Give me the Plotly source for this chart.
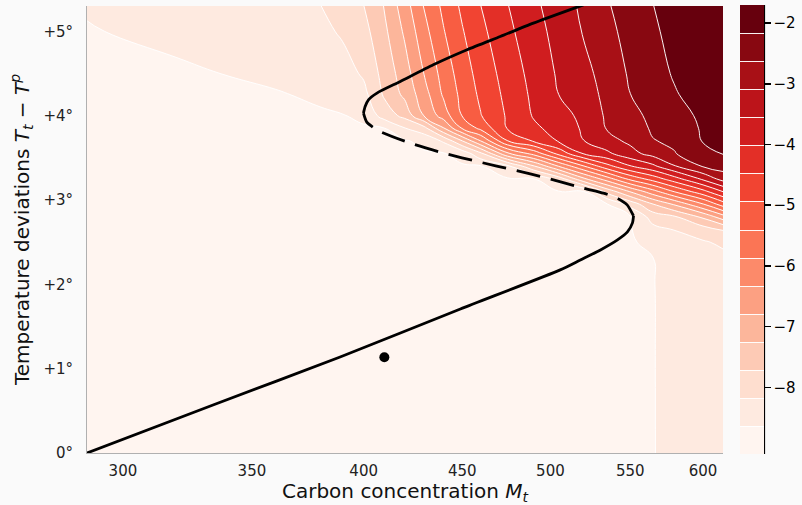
import math
import plotly.graph_objects as go

# ---------------- data ----------------
# grid of carbon concentration (columns) and temperature deviation (rows)
M_GRID = [287, 320, 360, 380, 390, 400, 410, 420, 430, 440, 450, 460,
          475, 490, 505, 520, 535, 550, 565, 580, 600, 615]
T_GRID = [0, 1, 2, 2.3, 2.5, 2.65, 2.8, 2.95, 3.1, 3.25, 3.4, 3.55,
          3.7, 3.85, 4.0, 4.25, 4.5, 5.0, 5.3]

# field values, one list per M column (bottom -> top in T)
Z_BY_M = [
    [-8.87, -8.87, -8.86, -8.85, -8.85, -8.84, -8.83, -8.82, -8.81, -8.80, -8.79, -8.79, -8.78, -8.77, -8.75, -8.73, -8.71, -8.66, -8.61],
    [-8.87, -8.87, -8.85, -8.85, -8.84, -8.83, -8.82, -8.81, -8.80, -8.79, -8.79, -8.78, -8.77, -8.76, -8.75, -8.73, -8.69, -8.55, -8.45],
    [-8.87, -8.87, -8.85, -8.85, -8.84, -8.83, -8.82, -8.81, -8.80, -8.79, -8.78, -8.76, -8.75, -8.73, -8.71, -8.66, -8.57, -8.38, -8.26],
    [-8.87, -8.87, -8.85, -8.84, -8.83, -8.82, -8.81, -8.80, -8.79, -8.78, -8.76, -8.75, -8.73, -8.71, -8.67, -8.59, -8.49, -8.30, -8.18],
    [-8.87, -8.87, -8.84, -8.83, -8.82, -8.81, -8.80, -8.79, -8.78, -8.77, -8.75, -8.74, -8.72, -8.69, -8.65, -8.52, -8.38, -8.11, -7.96],
    [-8.87, -8.87, -8.84, -8.83, -8.82, -8.81, -8.80, -8.79, -8.78, -8.76, -8.75, -8.73, -8.71, -8.67, -8.57, -8.31, -8.11, -7.87, -7.72],
    [-8.87, -8.87, -8.83, -8.82, -8.81, -8.80, -8.79, -8.78, -8.77, -8.75, -8.74, -8.72, -8.69, -8.65, -7.97, -7.65, -7.55, -7.35, -7.23],
    [-8.87, -8.87, -8.83, -8.82, -8.81, -8.80, -8.79, -8.78, -8.76, -8.75, -8.73, -8.71, -8.68, -8.20, -7.58, -7.15, -7.01, -6.72, -6.54],
    [-8.87, -8.86, -8.82, -8.81, -8.79, -8.79, -8.77, -8.76, -8.74, -8.73, -8.71, -8.68, -8.53, -7.87, -6.76, -6.52, -6.31, -6.01, -5.83],
    [-8.87, -8.85, -8.81, -8.80, -8.79, -8.78, -8.76, -8.75, -8.73, -8.72, -8.70, -8.67, -8.11, -6.83, -6.11, -5.80, -5.68, -5.43, -5.30],
    [-8.87, -8.85, -8.80, -8.79, -8.78, -8.76, -8.75, -8.73, -8.72, -8.71, -8.68, -8.48, -7.26, -5.83, -5.38, -5.27, -5.17, -4.97, -4.85],
    [-8.87, -8.84, -8.79, -8.78, -8.77, -8.75, -8.74, -8.73, -8.71, -8.70, -8.67, -7.83, -6.33, -5.28, -4.96, -4.85, -4.76, -4.59, -4.48],
    [-8.86, -8.83, -8.78, -8.76, -8.75, -8.73, -8.72, -8.71, -8.69, -8.67, -8.29, -6.41, -4.95, -4.45, -4.42, -4.35, -4.28, -4.12, -4.03],
    [-8.85, -8.82, -8.77, -8.75, -8.74, -8.73, -8.71, -8.70, -8.68, -8.66, -7.31, -5.71, -4.43, -4.10, -3.98, -3.92, -3.86, -3.73, -3.65],
    [-8.84, -8.81, -8.75, -8.73, -8.72, -8.71, -8.69, -8.68, -8.66, -7.98, -6.31, -4.80, -3.97, -3.85, -3.74, -3.55, -3.49, -3.39, -3.32],
    [-8.83, -8.80, -8.74, -8.73, -8.72, -8.70, -8.69, -8.67, -8.66, -6.90, -5.45, -4.00, -3.56, -3.49, -3.43, -3.34, -3.24, -3.06, -3.00],
    [-8.82, -8.79, -8.73, -8.71, -8.70, -8.68, -8.67, -8.66, -7.56, -6.09, -4.64, -3.65, -3.24, -3.06, -3.02, -2.95, -2.89, -2.75, -2.67],
    [-8.78, -8.75, -8.71, -8.69, -8.68, -8.67, -8.66, -8.02, -6.76, -5.28, -4.05, -3.24, -3.00, -2.90, -2.80, -2.63, -2.57, -2.47, -2.40],
    [-8.66, -8.66, -8.66, -8.65, -8.54, -8.31, -7.99, -7.27, -6.05, -4.75, -3.66, -2.93, -2.65, -2.56, -2.49, -2.39, -2.29, -2.21, -2.17],
    [-8.48, -8.47, -8.44, -8.41, -8.34, -8.16, -7.77, -6.72, -5.37, -4.20, -3.12, -2.65, -2.54, -2.44, -2.35, -2.19, -2.13, -2.07, -2.02],
    [-8.43, -8.42, -8.40, -8.34, -8.22, -7.92, -7.16, -5.89, -4.63, -3.46, -2.59, -2.28, -2.14, -2.11, -2.07, -2.02, -1.99, -1.93, -1.89],
    [-8.41, -8.41, -8.36, -8.29, -8.09, -7.68, -6.51, -5.15, -3.98, -2.89, -2.43, -2.14, -2.07, -2.02, -1.98, -1.91, -1.86, -1.79, -1.77],
]

# equilibrium branches
LOWER_M = [287.4, 334.1, 388.9, 449.0, 505.9, 518.2, 530.8, 541.7, 548.2, 551.5, 552.2]
LOWER_T = [0.0, 0.569, 1.139, 1.708, 2.171, 2.289, 2.408, 2.527, 2.622, 2.728, 2.811]

UNSTABLE_M = [552.2, 548.0, 541.5, 532.7, 520.3, 498.0, 478.3, 459.8, 440.1, 422.9, 407.0, 401.5, 399.9]
UNSTABLE_T = [2.811, 2.942, 3.021, 3.081, 3.140, 3.259, 3.357, 3.448, 3.555, 3.674, 3.823, 3.923, 4.030]

UPPER_M = [399.9, 400.7, 402.3, 406.4, 417.9, 434.7, 452.6, 470.9, 489.9, 520.1]
UPPER_T = [4.030, 4.108, 4.187, 4.267, 4.405, 4.603, 4.781, 4.938, 5.097, 5.314]

NOW_M = [410.0]
NOW_T = [1.135]

X_TICKS = [300, 350, 400, 450, 500, 550, 600]
Y_TICKS = [0, 1, 2, 3, 4, 5]
Y_TICK_TEXT = ["0°", "+1°", "+2°", "+3°", "+4°", "+5°"]
CB_TICKS = [-8, -7, -6, -5, -4, -3, -2]
CB_TICK_TEXT = ["−8", "−7", "−6", "−5", "−4", "−3", "−2"]

LEVEL_START = -8.6375
LEVEL_END = -2.1625
LEVEL_SIZE = 0.4625
Z_MIN = -9.1
Z_MAX = -1.7

REDS = [
    [0.0, "#fff5f0"], [0.125, "#fee0d2"], [0.25, "#fcbba1"], [0.375, "#fc9272"],
    [0.5, "#fb6a4a"], [0.625, "#ef3b2c"], [0.75, "#cb181d"], [0.875, "#a50f15"],
    [1.0, "#67000d"],
]

# ---------------- figure ----------------
z_rows = [list(r) for r in zip(*Z_BY_M)]

W, H = 802, 505
L, R, T, B = 87, 79, 6, 52
plot_w = W - L - R
plot_h = H - T - B

fig = go.Figure()
fig.add_trace(go.Contour(
    x=M_GRID, y=T_GRID, z=z_rows,
    colorscale=REDS, zmin=Z_MIN, zmax=Z_MAX,
    autocontour=False,
    contours=dict(start=LEVEL_START, end=LEVEL_END, size=LEVEL_SIZE, coloring="fill"),
    line=dict(color="rgba(255,255,255,0.95)", width=1.0, smoothing=1.3),
    hoverinfo="skip",
    colorbar=dict(
        thickness=24, thicknessmode="pixels",
        len=(454 - 5) / plot_h, lenmode="fraction",
        x=(740 - L) / plot_w, xanchor="left", xpad=0,
        y=0.5, yanchor="middle", ypad=0,
        outlinewidth=0,
        tickmode="array", tickvals=CB_TICKS, ticktext=CB_TICK_TEXT,
        ticks="outside", ticklen=7, tickwidth=1.5,
        tickcolor="black", tickfont=dict(size=15, color="black", family="DejaVu Sans"),
    ),
))

fig.add_trace(go.Scatter(x=LOWER_M, y=LOWER_T, mode="lines",
                         line=dict(color="black", width=2.8, shape="spline", smoothing=0.6),
                         hoverinfo="skip"))
fig.add_trace(go.Scatter(x=UNSTABLE_M, y=UNSTABLE_T, mode="lines",
                         line=dict(color="black", width=2.8, dash="24px,11px", shape="spline", smoothing=0.6),
                         hoverinfo="skip"))
fig.add_trace(go.Scatter(x=UPPER_M, y=UPPER_T, mode="lines",
                         line=dict(color="black", width=2.8, shape="spline", smoothing=0.6),
                         hoverinfo="skip"))
fig.add_trace(go.Scatter(x=NOW_M, y=NOW_T, mode="markers",
                         marker=dict(color="black", size=10), hoverinfo="skip"))

# colorbar axis line (right side)
fig.add_shape(type="line", xref="paper", yref="paper",
              x0=(764.5 - L) / plot_w, x1=(764.5 - L) / plot_w,
              y0=(H - B - 454) / plot_h, y1=(H - B - 5) / plot_h,
              line=dict(color="black", width=1.2))

fig.update_layout(
    width=W, height=H,
    margin=dict(l=L, r=R, t=T, b=B, autoexpand=False),
    paper_bgcolor="#fafafa", plot_bgcolor="#fafafa",
    showlegend=False,
    font=dict(family="DejaVu Sans", color="#222222"),
)
fig.update_xaxes(
    type="log", range=[math.log10(287.4), math.log10(614.5)],
    tickvals=X_TICKS, ticktext=[str(v) for v in X_TICKS],
    showgrid=False, zeroline=False, showline=True, linecolor="#b0b0b0", linewidth=1,
    ticks="", ticklabelstandoff=4, tickfont=dict(size=15, color="#222222"),
    title=dict(text="Carbon concentration <i>M<sub>t</sub></i>", font=dict(size=20, color="#111111"), standoff=6),
)
fig.update_yaxes(
    range=[0, 5.30],
    tickvals=Y_TICKS, ticktext=Y_TICK_TEXT,
    showgrid=False, zeroline=False, showline=True, linecolor="#b0b0b0", linewidth=1,
    ticks="", ticklabelstandoff=10, tickfont=dict(size=15, color="#222222"),
    title=dict(text="Temperature deviations <i>T<sub>t</sub></i> − <i>T<sup>p</sup></i>",
               font=dict(size=20, color="#111111"), standoff=8),
)

fig.write_html("out.html", config={"displayModeBar": False, "staticPlot": True},
               post_script="document.body.style.margin='0px';")
